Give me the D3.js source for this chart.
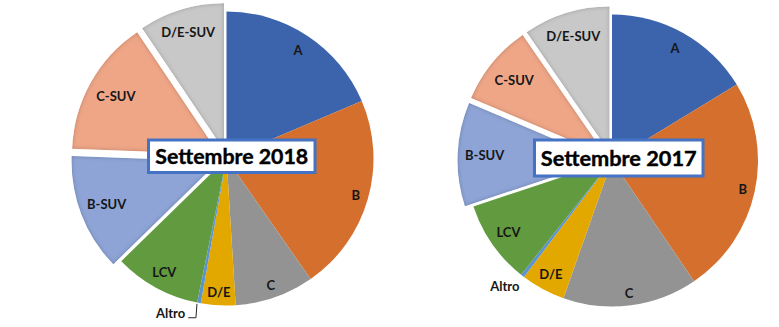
<!DOCTYPE html>
<html>
<head>
<meta charset="utf-8">
<script src="https://cdn.jsdelivr.net/npm/d3@7"></script>
<style>
  html, body { margin: 0; padding: 0; background: #ffffff; }
  svg { display: block; }
  text { font-family: Lato, "Open Sans", sans-serif; font-weight: bold; }
</style>
</head>
<body>
<svg id="chart" width="779" height="327"></svg>
<script>
// Market segments, clockwise from 12 o'clock
const categories = ["A", "B", "C", "D/E", "Altro", "LCV", "B-SUV", "C-SUV", "D/E-SUV"];
// Segment shares (%) for each month
const share2018 = [18.6, 21.7, 8.7, 3.8, 0.4, 9.5, 12.9, 15.0, 9.4];
const share2017 = [16.3, 24.2, 14.9, 4.9, 0.4, 9.2, 11.5, 9.0, 9.6];
const pieTitles = ["Settembre 2018", "Settembre 2017"];
// SUV segments are pulled out of the pie
const explodedCategories = ["B-SUV", "C-SUV", "D/E-SUV"];

const sliceColors = ["#3b64ad", "#d46f2d", "#939393", "#e3a800", "#5b93cf",
                     "#619a3f", "#8ea4d6", "#eea687", "#c8c8c8"];

const color = d3.scaleOrdinal().domain(categories).range(sliceColors);

const svg = d3.select("#chart");

// inner shading used on the pulled-out slices
const defs = svg.append("defs");
const f = defs.append("filter").attr("id", "bevel")
  .attr("x", "-10%").attr("y", "-10%").attr("width", "120%").attr("height", "120%");
f.append("feGaussianBlur").attr("in", "SourceAlpha").attr("stdDeviation", 2.2).attr("result", "blur");
f.append("feComposite").attr("in", "SourceAlpha").attr("in2", "blur")
  .attr("operator", "arithmetic").attr("k2", 1).attr("k3", -1).attr("result", "edge");
f.append("feFlood").attr("flood-color", "#000").attr("flood-opacity", 0.45);
f.append("feComposite").attr("in2", "edge").attr("operator", "in").attr("result", "shade");
const fm = f.append("feMerge");
fm.append("feMergeNode").attr("in", "SourceGraphic");
fm.append("feMergeNode").attr("in", "shade");

const charts = [
  { values: share2018, title: pieTitles[0], cx: 226.5, cy: 158.5, r: 147,
    box: { x: 148.5, y: 140, w: 166.5, h: 32.5 }, titleWidth: 153,
    altro: { dr: 18, dAngle: 9, leader: true } },
  { values: share2017, title: pieTitles[1], cx: 612, cy: 160.5, r: 146,
    box: { x: 534.5, y: 140, w: 168.5, h: 36 }, titleWidth: 156,
    altro: { dr: 19, dAngle: 2.7, leader: false } }
];

const explodeOffset = 8.5;
const labelMargin = 7;
const labelSize = 13;
// half-heights of a label box above / below its centre
const labelUp = 9.5, labelDown = 4.9;

const pie = d3.pie().sort(null).startAngle(0).endAngle(2 * Math.PI).value(d => d.value);

charts.forEach(cfg => {
  const data = categories.map((c, i) => ({ cat: c, value: cfg.values[i] }));
  const arcs = pie(data);
  const arc = d3.arc().innerRadius(0).outerRadius(cfg.r);
  const g = svg.append("g").attr("transform", `translate(${cfg.cx},${cfg.cy})`);

  const shift = d => {
    if (!explodedCategories.includes(d.data.cat)) return [0, 0];
    const m = (d.startAngle + d.endAngle) / 2;
    return [explodeOffset * Math.sin(m), -explodeOffset * Math.cos(m)];
  };

  g.selectAll("path.slice").data(arcs).enter().append("path")
    .attr("class", "slice")
    .attr("d", arc)
    .attr("fill", d => color(d.data.cat))
    .attr("filter", d => explodedCategories.includes(d.data.cat) ? "url(#bevel)" : null)
    .attr("transform", d => { const s = shift(d); return `translate(${s[0]},${s[1]})`; });

  // slice labels, placed just inside the outer edge
  arcs.forEach(d => {
    const m = (d.startAngle + d.endAngle) / 2;
    const s = shift(d);
    const t = g.append("text")
      .attr("font-size", labelSize)
      .attr("fill", "#161616")
      .attr("text-anchor", "middle")
      .attr("dy", "0.36em")
      .text(d.data.cat);
    if (d.data.cat === "Altro") {
      const a = m + cfg.altro.dAngle * Math.PI / 180;
      const rr = cfg.r + cfg.altro.dr;
      const lx = rr * Math.sin(a), ly = -rr * Math.cos(a);
      t.attr("x", lx).attr("y", ly);
      if (cfg.altro.leader) {
        const w = t.node().getComputedTextLength();
        const ex = cfg.r * Math.sin(m) - 2, ey = -cfg.r * Math.cos(m) + 1;
        const yy = ly + 4;
        g.append("path")
          .attr("d", `M${ex},${ey}L${ex - 1},${yy}L${lx + w / 2 + 3},${yy}`)
          .attr("fill", "none").attr("stroke", "#262626").attr("stroke-width", 1);
      }
      return;
    }
    const w = t.node().getComputedTextLength();
    const c = Math.cos(m);
    const vert = c > 0 ? c * labelUp : -c * labelDown;
    const dist = cfg.r - labelMargin - (Math.abs(Math.sin(m)) * w / 2 + vert);
    t.attr("x", dist * Math.sin(m) + s[0]).attr("y", -dist * c + s[1]);
  });

  // title box in the middle of the pie
  const b = cfg.box;
  svg.append("rect")
    .attr("x", b.x).attr("y", b.y).attr("width", b.w).attr("height", b.h)
    .attr("fill", "#ffffff").attr("stroke", "#4472c4").attr("stroke-width", 3);
  const tt = svg.append("text")
    .attr("x", b.x + b.w / 2).attr("y", b.y + b.h / 2)
    .attr("text-anchor", "middle").attr("dy", "0.36em")
    .attr("fill", "#000").attr("stroke", "#000").attr("stroke-width", 0.4)
    .attr("font-size", 21)
    .text(cfg.title);
  const tw = tt.node().getComputedTextLength();
  tt.attr("font-size", 21 * cfg.titleWidth / tw);
});
</script>
</body>
</html>
